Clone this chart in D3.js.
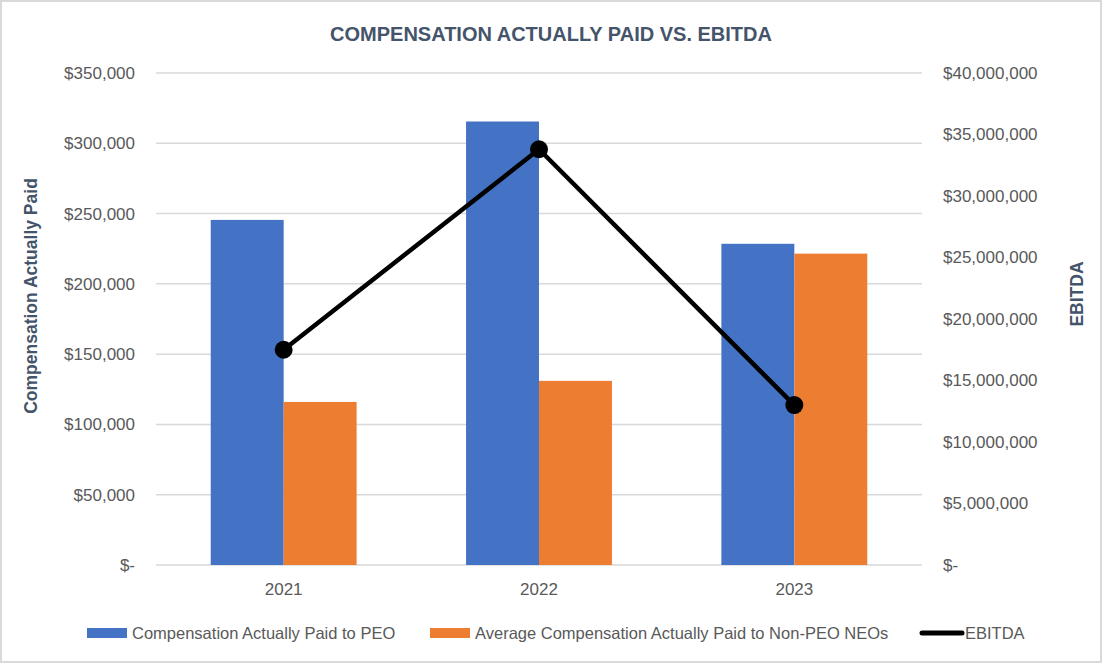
<!DOCTYPE html>
<html>
<head>
<meta charset="utf-8">
<script src="https://cdn.jsdelivr.net/npm/d3@7"></script>
<style>
  html, body { margin: 0; padding: 0; background: #fff; }
  svg { display: block; font-family: "Liberation Sans", Arial, sans-serif; }
</style>
</head>
<body>
<svg id="chart" width="1102" height="663"></svg>
<script>
// ---- data ----
const years = ["2021", "2022", "2023"];
const peoCAP = [245500, 315500, 228500];
const neoCAP = [116000, 131000, 221500];
const ebitda = [17500000, 33800000, 13000000];
const leftTicks = [0, 50000, 100000, 150000, 200000, 250000, 300000, 350000];
const rightTicks = [0, 5000000, 10000000, 15000000, 20000000, 25000000, 30000000, 35000000, 40000000];
const seriesNames = ["Compensation Actually Paid to PEO", "Average Compensation Actually Paid to Non-PEO NEOs", "EBITDA"];
const colors = ["#4472C4", "#ED7D31", "#000000"];

const W = 1102, H = 663;
const svg = d3.select("#chart");

// frame
svg.append("rect").attr("x", 1).attr("y", 1).attr("width", W - 2).attr("height", H - 2)
  .attr("fill", "#fff").attr("stroke", "#d9d9d9").attr("stroke-width", 2);

const plot = { left: 156, right: 922, top: 73, bottom: 565 };

const x0 = d3.scaleBand().domain(years).range([plot.left, plot.right])
  .paddingInner(0.4286).paddingOuter(0.2143);
const x1 = d3.scaleBand().domain([0, 1]).range([0, x0.bandwidth()]);
const yL = d3.scaleLinear().domain([0, 350000]).range([plot.bottom, plot.top]);
const yR = d3.scaleLinear().domain([0, 40000000]).range([plot.bottom, plot.top]);

const fmt = v => v === 0 ? "$-" : "$" + d3.format(",")(v);

// gridlines
svg.append("g").selectAll("line").data(leftTicks).join("line")
  .attr("x1", plot.left).attr("x2", plot.right)
  .attr("y1", d => yL(d)).attr("y2", d => yL(d))
  .attr("stroke", "#d9d9d9").attr("stroke-width", 1.5);

// left axis labels
const leftAxis = d3.axisLeft(yL).tickValues(leftTicks).tickFormat(fmt).tickSize(0).tickPadding(0);
const gL = svg.append("g").attr("transform", "translate(135,0)").call(leftAxis);
gL.select(".domain").remove();
gL.selectAll("text").attr("fill", "#595959").style("font-size", "17px")
  .style("font-family", "'Liberation Sans', Arial, sans-serif");

// right axis labels
const rightAxis = d3.axisRight(yR).tickValues(rightTicks).tickFormat(fmt).tickSize(0).tickPadding(0);
const gR = svg.append("g").attr("transform", "translate(943,0)").call(rightAxis);
gR.select(".domain").remove();
gR.selectAll("text").attr("fill", "#595959").style("font-size", "17px")
  .style("font-family", "'Liberation Sans', Arial, sans-serif");

// x axis labels
const xAxis = d3.axisBottom(x0).tickSize(0).tickPadding(0);
const gX = svg.append("g").attr("transform", "translate(0,583)").call(xAxis);
gX.select(".domain").remove();
gX.selectAll("text").attr("fill", "#595959").style("font-size", "17px")
  .style("font-family", "'Liberation Sans', Arial, sans-serif");

// bars
const barData = [];
years.forEach((yr, i) => {
  barData.push({ yr, s: 0, v: peoCAP[i] });
  barData.push({ yr, s: 1, v: neoCAP[i] });
});
svg.append("g").selectAll("rect").data(barData).join("rect")
  .attr("x", d => x0(d.yr) + x1(d.s))
  .attr("width", x1.bandwidth())
  .attr("y", d => yL(d.v))
  .attr("height", d => yL(0) - yL(d.v))
  .attr("fill", d => colors[d.s]);

// line
const cx = yr => x0(yr) + x0.bandwidth() / 2;
const lineGen = d3.line().x((d, i) => cx(years[i])).y(d => yR(d));
svg.append("path").datum(ebitda).attr("d", lineGen)
  .attr("fill", "none").attr("stroke", "#000").attr("stroke-width", 4.5)
  .attr("stroke-linejoin", "round");
svg.append("g").selectAll("circle").data(ebitda).join("circle")
  .attr("cx", (d, i) => cx(years[i])).attr("cy", d => yR(d)).attr("r", 9)
  .attr("fill", "#000");

// axis titles
svg.append("text").attr("transform", "translate(37,296) rotate(-90)")
  .attr("text-anchor", "middle").attr("fill", "#44546A")
  .style("font-size", "17.5px").style("font-weight", "bold")
  .text("Compensation Actually Paid");
svg.append("text").attr("transform", "translate(1083,294) rotate(-90)")
  .attr("text-anchor", "middle").attr("fill", "#44546A")
  .style("font-size", "17.5px").style("font-weight", "bold")
  .text("EBITDA");

// title
svg.append("text").attr("x", 551).attr("y", 41).attr("text-anchor", "middle")
  .attr("fill", "#44546A").style("font-size", "20px").style("font-weight", "bold")
  .text("COMPENSATION ACTUALLY PAID VS. EBITDA");

// legend
const legX = [87, 430, 920];
const leg = svg.append("g");
seriesNames.forEach((name, i) => {
  if (i < 2) {
    leg.append("rect").attr("x", legX[i]).attr("y", 628).attr("width", 40).attr("height", 10)
      .attr("fill", colors[i]);
  } else {
    leg.append("line").attr("x1", legX[i] + 2).attr("x2", legX[i] + 42)
      .attr("y1", 633).attr("y2", 633).attr("stroke", colors[i]).attr("stroke-width", 5)
      .attr("stroke-linecap", "round");
  }
  leg.append("text").attr("x", legX[i] + 45).attr("y", 639)
    .attr("fill", "#595959").style("font-size", "16.5px").text(name);
});
</script>
</body>
</html>
